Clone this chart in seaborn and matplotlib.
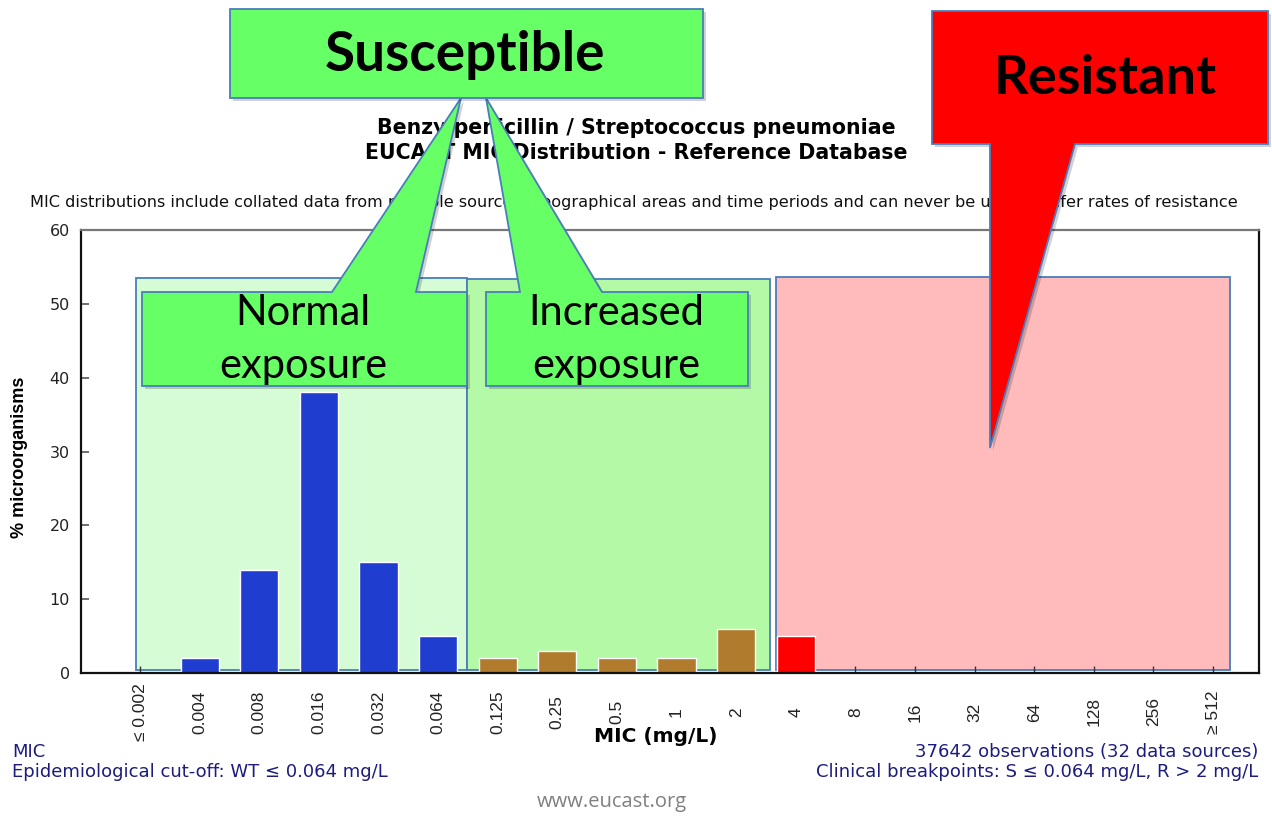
import matplotlib
matplotlib.use("Agg")
import matplotlib.pyplot as plt
import seaborn as sns
import pandas as pd
from matplotlib.patches import Polygon, Rectangle

# ---------------- data ----------------
mic_labels = ["≤ 0.002", "0.004", "0.008", "0.016", "0.032", "0.064", "0.125", "0.25",
              "0.5", "1", "2", "4", "8", "16", "32", "64", "128", "256", "≥ 512"]
pct_values = [0, 2, 14, 38, 15, 5, 2, 3, 2, 2, 6, 5, 0, 0, 0, 0, 0, 0, 0]
bar_groups = ["WT"] * 6 + ["Intermediate"] * 5 + ["R"] * 8
group_colors = {"WT": "#1f3dcf", "Intermediate": "#b07b2c", "R": "#ff0000"}
y_ticks = [0, 10, 20, 30, 40, 50, 60]

title_lines = ["Benzylpenicillin / Streptococcus pneumoniae",
               "EUCAST MIC Distribution - Reference Database"]
subtitle = ("MIC distributions include collated data from multiple sources, geographical areas "
            "and time periods and can never be used to infer rates of resistance")

df = pd.DataFrame({"mic": mic_labels, "pct": pct_values, "group": bar_groups})

# ---------------- figure ----------------
W, H = 1272, 816
sns.set_style("white")
plt.rcParams["font.family"] = ["DejaVu Sans"]
plt.rcParams["text.color"] = "black"

fig = plt.figure(figsize=(W / 100, H / 100), dpi=100)
fig.patch.set_facecolor("white")


def P(x, y):
    return (x / W, 1 - y / H)


ax = fig.add_axes([81 / W, 1 - 673 / H, (1259 - 81) / W, (673 - 230) / H])

# background zone rectangles (data coords)
zones = [(-0.07, 5.49, 53.5, "#d6fcd6"), (5.49, 10.57, 53.4, "#b3f9a6"), (10.67, 18.29, 53.6, "#ffbbbb")]
for x0, x1, top, col in zones:
    ax.add_patch(Rectangle((x0, 0.4), x1 - x0, top - 0.4, facecolor=col,
                           edgecolor="#4a7ebb", lw=1.3, zorder=0.5))

sns.barplot(data=df, x="mic", y="pct", hue="group", palette=group_colors, order=mic_labels,
            width=0.64, dodge=False, legend=False, ax=ax, saturation=1, zorder=2)

narrow = ["Liberation Sans Narrow", "Liberation Sans", "DejaVu Sans"]
ax.set_xlim(-0.99, 18.77)
ax.set_ylim(0, 60)
ax.set_yticks(y_ticks)
ax.set_yticklabels([str(t) for t in y_ticks], fontsize=11.5, color="#222222")
ax.tick_params(axis="y", direction="in", length=6, width=1.2, color="#555555", pad=8, left=True)
ax.tick_params(axis="x", direction="in", length=5, width=1, color="#333333", pad=28, bottom=True)
ax.set_xticks(range(len(mic_labels)))
ax.set_xticklabels(mic_labels, rotation=90, fontsize=12.5, color="#222222", family=narrow)
for lbl in ax.get_xticklabels():
    lbl.set_va("center")

for side, col in [("left", "#111111"), ("bottom", "#111111"), ("right", "#111111"), ("top", "#777777")]:
    ax.spines[side].set_visible(True)
    ax.spines[side].set_color(col)
    ax.spines[side].set_linewidth(1.6)

ax.set_xlabel("MIC (mg/L)", fontsize=14.5, fontweight="bold", va="center", color="black")
ax.xaxis.set_label_coords((656 - 81) / 1178, (673 - 737) / 443)
ax.set_ylabel("% microorganisms", fontsize=13, fontweight="bold", va="center", rotation=90,
              family=narrow, color="black")
ax.yaxis.set_label_coords((20 - 81) / 1178, (673 - 457) / 443)

# ---------------- titles & notes ----------------
fig.text(*P(636, 128), title_lines[0], ha="center", va="center", fontsize=14.8, fontweight="bold")
fig.text(*P(636, 153), title_lines[1], ha="center", va="center", fontsize=14.8, fontweight="bold")
fig.text(*P(634, 202), subtitle, ha="center", va="center", fontsize=11.6, color="#111111")

navy = "#1c1c80"
fs_note = 13
fig.text(*P(12, 752), "MIC", ha="left", va="center", fontsize=fs_note, color=navy)
fig.text(*P(12, 772), "Epidemiological cut-off: WT ≤ 0.064 mg/L", ha="left", va="center",
         fontsize=fs_note, color=navy)
fig.text(*P(1258, 752), "37642 observations (32 data sources)", ha="right", va="center",
         fontsize=fs_note, color=navy)
fig.text(*P(1258, 772), "Clinical breakpoints: S ≤ 0.064 mg/L, R > 2 mg/L", ha="right", va="center",
         fontsize=fs_note, color=navy)
fig.text(*P(612, 802), "www.eucast.org", ha="center", va="center", fontsize=14.5, color="#808080",
         family=["Open Sans", "DejaVu Sans"])

# ---------------- callouts ----------------
edge = "#4a7ebb"
green = "#66ff66"


def fig_poly(pts, fc, z, shadow=False):
    if shadow:
        sp = [P(x + 3, y + 3) for x, y in pts]
        fig.add_artist(Polygon(sp, closed=True, transform=fig.transFigure, facecolor="#000000",
                               alpha=0.18, edgecolor="none", zorder=z - 0.1))
    fig.add_artist(Polygon([P(x, y) for x, y in pts], closed=True, transform=fig.transFigure,
                           facecolor=fc, edgecolor=edge, lw=1.3, zorder=z))


# Normal exposure callout with tail pointing to Susceptible box
fig_poly([(142, 292), (332, 292), (461, 98), (416, 292), (467, 292), (467, 386), (142, 386)],
         green, 5, shadow=True)
# Increased exposure callout
fig_poly([(486, 292), (520, 292), (486, 98), (602, 292), (748, 292), (748, 386), (486, 386)],
         green, 5, shadow=True)
# Susceptible box
fig_poly([(230, 9), (703, 9), (703, 98), (230, 98)], green, 6, shadow=True)
# Resistant callout
fig_poly([(932, 11), (1268, 11), (1268, 144), (1075, 144), (990, 448), (990, 144), (932, 144)],
         "#ff0000", 6, shadow=True)

slide_font = ["Lato", "DejaVu Sans"]
fig.text(*P(465, 55), "Susceptible", ha="center", va="center", fontsize=39.5, fontweight="bold",
         family=slide_font, zorder=7, color="black")
fig.text(*P(1105, 78), "Resistant", ha="center", va="center", fontsize=39, fontweight="bold",
         family=slide_font, zorder=7, color="black")
fig.text(*P(303, 313), "Normal", ha="center", va="center", fontsize=30, family=slide_font, zorder=7,
         color="black")
fig.text(*P(303, 366), "exposure", ha="center", va="center", fontsize=30, family=slide_font, zorder=7,
         color="black")
fig.text(*P(616, 313), "Increased", ha="center", va="center", fontsize=30, family=slide_font, zorder=7,
         color="black")
fig.text(*P(616, 366), "exposure", ha="center", va="center", fontsize=30, family=slide_font, zorder=7,
         color="black")

fig.savefig("out.png", dpi=100, facecolor="white")
